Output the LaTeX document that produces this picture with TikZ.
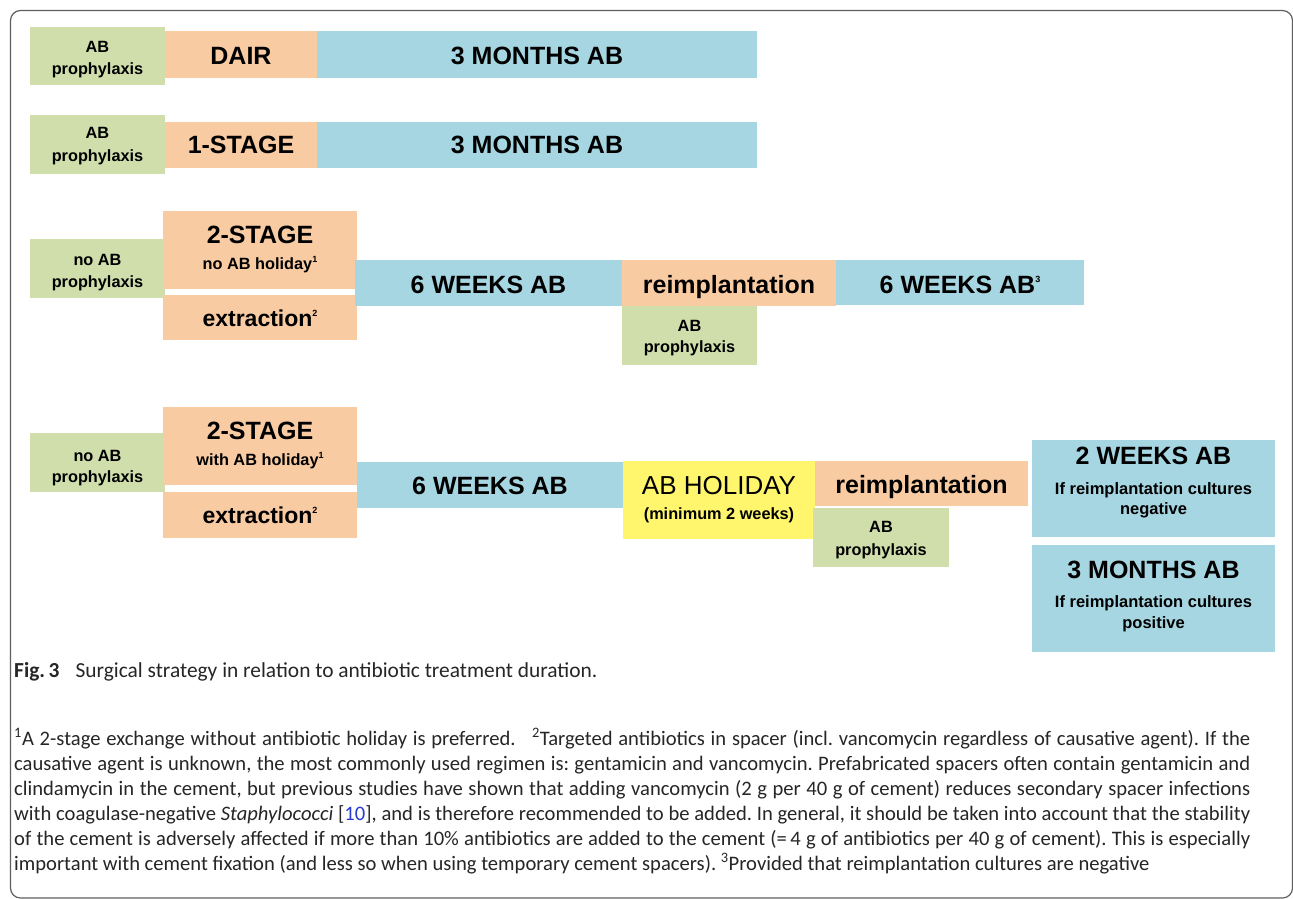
\documentclass[tikz,border=0pt]{standalone}
\usepackage{fontspec}
\setmainfont{Liberation Sans}
\newfontfamily\capfont{Carlito}
\definecolor{gr}{RGB}{208,222,172}
\definecolor{orr}{RGB}{248,203,163}
\definecolor{bl}{RGB}{166,214,226}
\definecolor{ye}{RGB}{255,246,110}
\definecolor{linkblue}{RGB}{40,60,210}
\definecolor{framegray}{RGB}{95,95,95}
\newcommand\sps[1]{\raisebox{0.42em}{\fontsize{9}{9}\selectfont #1}}
\tikzset{
  cell/.style={anchor=north west, inner sep=0pt, outer sep=0pt, draw=none},
  gbox/.style={cell, fill=gr},
  obox/.style={cell, fill=orr},
  bbox/.style={cell, fill=bl},
  ybox/.style={cell, fill=ye},
  tbig/.style={anchor=base, inner sep=0pt, font=\fontsize{25}{28}\selectfont\bfseries},
  thol/.style={anchor=base, inner sep=0pt, font=\fontsize{26}{28}\selectfont},
  tmid/.style={anchor=base, inner sep=0pt, font=\fontsize{23}{26}\selectfont\bfseries},
  tsm/.style={anchor=base, inner sep=0pt, font=\fontsize{16.3}{20}\selectfont\bfseries},
  tsmb/.style={anchor=base, inner sep=0pt, font=\fontsize{16.5}{20}\selectfont\bfseries},
}
\begin{document}
\begin{tikzpicture}[x=1pt,y=-1pt]
\useasboundingbox (0,0) rectangle (1293,898);
\fill[white] (0,0) rectangle (1293,898);
\draw[framegray, line width=1.2pt, rounded corners=10pt] (10.5,10.5) rectangle (1292.5,898);

% Row 1
\node[gbox, minimum width=135, minimum height=58] (g1) at (30,27) {};
\node[obox, minimum width=152, minimum height=47] (o1) at (165,31) {};
\node[bbox, minimum width=440, minimum height=47] (b1) at (317,31) {};
\node[tsm] (g1a) at (97.5,52) {AB};
\node[tsm] (g1b) at (97.5,74) {prophylaxis};
\node[tbig] (o1t) at (241,64) {DAIR};
\node[tbig] (b1t) at (537,64) {3 MONTHS AB};

% Row 2
\node[gbox, minimum width=135, minimum height=59] (g2) at (30,115) {};
\node[obox, minimum width=152, minimum height=46] (o2) at (165,122) {};
\node[bbox, minimum width=440, minimum height=46] (b2) at (317,122) {};
\node[tsm] (g2a) at (97.5,138) {AB};
\node[tsm] (g2b) at (97.5,161) {prophylaxis};
\node[tbig] (o2t) at (241,153) {1-STAGE};
\node[tbig] (b2t) at (537,153) {3 MONTHS AB};

% Row 3
\node[gbox, minimum width=135, minimum height=59] (g3) at (30,239) {};
\node[obox, minimum width=194, minimum height=78] (o3a) at (163,211) {};
\node[obox, minimum width=194, minimum height=45] (o3b) at (163,295) {};
\node[bbox, minimum width=267, minimum height=46] (b3) at (355,260) {};
\node[obox, minimum width=214, minimum height=46] (o3c) at (622,260) {};
\node[gbox, minimum width=135, minimum height=59] (g3b) at (622,306) {};
\node[bbox, minimum width=248, minimum height=45] (b3b) at (836,260) {};
\node[tsm] (g3a) at (97.5,265) {no AB};
\node[tsm] (g3c) at (97.5,287) {prophylaxis};
\node[tbig] (o3at) at (260,243) {2-STAGE};
\node[tsm] (o3as) at (260,269) {no AB holiday\sps{1}};
\node[tmid] (o3bt) at (260,326) {extraction\sps{2}};
\node[tbig] (b3t) at (488.5,293) {6 WEEKS AB};
\node[tbig] (o3ct) at (729,293) {reimplantation};
\node[tsm] (g3ba) at (689.5,331) {AB};
\node[tsm] (g3bb) at (689.5,352) {prophylaxis};
\node[tbig] (b3bt) at (960,293) {6 WEEKS AB\sps{3}};

% Row 4
\node[gbox, minimum width=135, minimum height=59] (g4) at (30,433) {};
\node[obox, minimum width=194, minimum height=78] (o4a) at (163,407) {};
\node[obox, minimum width=194, minimum height=46] (o4b) at (163,492) {};
\node[bbox, minimum width=266, minimum height=46] (b4) at (357,462) {};
\node[ybox, minimum width=192, minimum height=78] (y4) at (623,461) {};
\node[obox, minimum width=213, minimum height=45] (o4c) at (815,461) {};
\node[gbox, minimum width=136, minimum height=59] (g4b) at (813,508) {};
\node[bbox, minimum width=243, minimum height=97] (b4b) at (1032,440) {};
\node[bbox, minimum width=243, minimum height=107] (b4c) at (1032,545) {};
\node[tsm] (g4a) at (97.5,461) {no AB};
\node[tsm] (g4c) at (97.5,482) {prophylaxis};
\node[tbig] (o4at) at (260,439) {2-STAGE};
\node[tsm] (o4as) at (260,465) {with AB holiday\sps{1}};
\node[tmid] (o4bt) at (260,523) {extraction\sps{2}};
\node[tbig] (b4t) at (490,494) {6 WEEKS AB};
\node[thol] (y4t) at (719,494) {AB HOLIDAY};
\node[tsm] (y4s) at (719,519) {(minimum 2 weeks)};
\node[tbig] (o4ct) at (921.5,493) {reimplantation};
\node[tsm] (g4ba) at (881,532) {AB};
\node[tsm] (g4bb) at (881,555) {prophylaxis};
\node[tbig] (b4bt) at (1153.5,464) {2 WEEKS AB};
\node[tsmb] (b4bs) at (1153.5,494) {If reimplantation cultures};
\node[tsmb] (b4bn) at (1153.5,514) {negative};
\node[tbig] (b4ct) at (1153.5,578) {3 MONTHS AB};
\node[tsmb] (b4cs) at (1153.5,607) {If reimplantation cultures};
\node[tsmb] (b4cp) at (1153.5,628) {positive};

% Caption
\node[anchor=base west, inner sep=0pt, text=black!85, font=\capfont\fontsize{21.4}{25}\selectfont] (cap) at (14,677)
  {\textbf{Fig.\,3}\hspace{0.75em}Surgical strategy in relation to antibiotic treatment duration.};
\node[anchor=north west, inner sep=0pt, text width=1236pt, align=justify, text=black!85,
      font=\capfont\fontsize{20.6}{25}\selectfont] (notes) at (14,728)
  {\noindent\frenchspacing\hyphenpenalty=10000
  \textsuperscript{1}A 2-stage exchange without antibiotic holiday is preferred.\hspace{0.8em}\textsuperscript{2}Targeted antibiotics in spacer (incl. vancomycin regardless of causative agent). If the\linebreak
  causative agent is unknown, the most commonly used regimen is: gentamicin and vancomycin. Prefabricated spacers often contain gentamicin and\linebreak
  clindamycin in the cement, but previous studies have shown that adding vancomycin (2 g per 40 g of cement) reduces secondary spacer infections\linebreak
  with coagulase-negative \textit{Staphylococci} [\textcolor{linkblue}{10}], and is therefore recommended to be added. In general, it should be taken into account that the stability\linebreak
  of the cement is adversely affected if more than 10\% antibiotics are added to the cement (=\,4 g of antibiotics per 40 g of cement). This is especially\linebreak
  important with cement fixation (and less so when using temporary cement spacers). \textsuperscript{3}Provided that reimplantation cultures are negative\par};
\end{tikzpicture}
\end{document}
